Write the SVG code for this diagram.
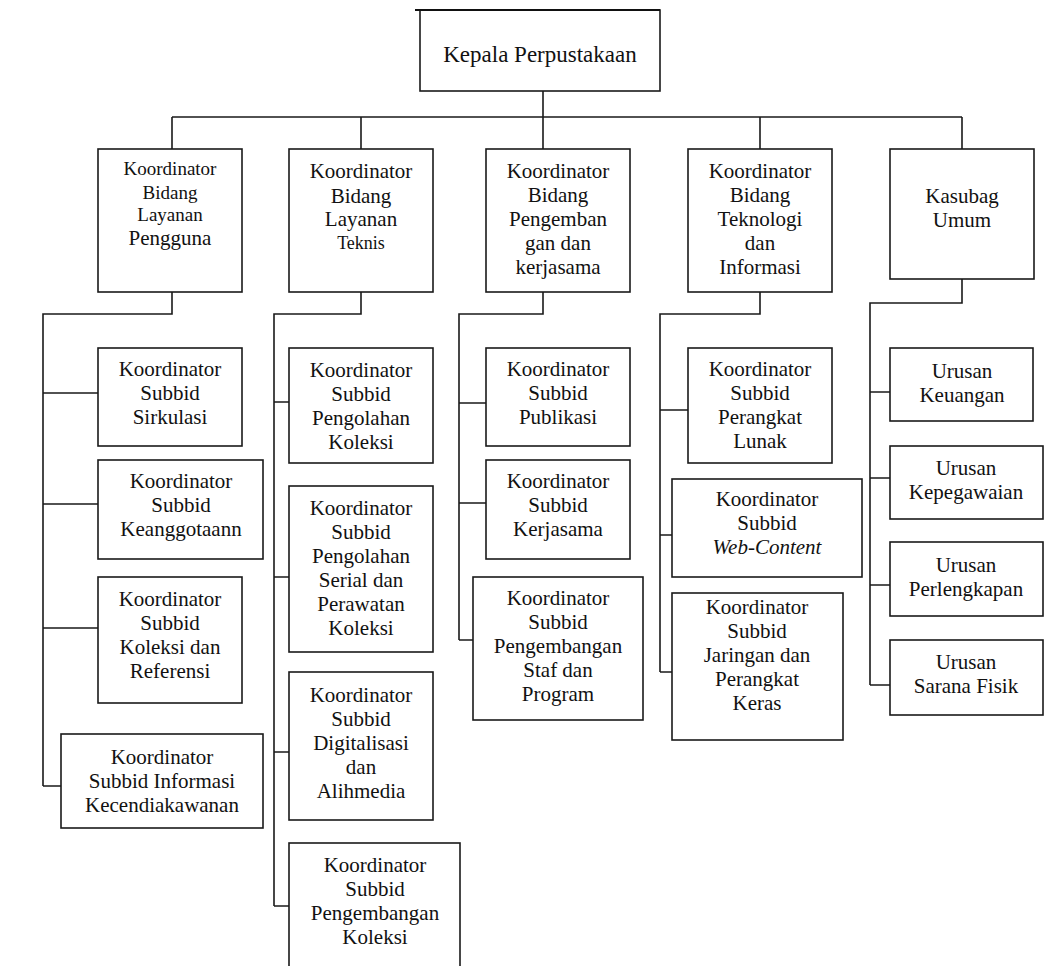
<svg xmlns="http://www.w3.org/2000/svg" width="1059" height="966" viewBox="0 0 1059 966">
<style>
rect.b{fill:#fff;stroke:#1a1a1a;stroke-width:1.6}
#connectors path{fill:none;stroke:#1a1a1a;stroke-width:1.6}
text{font-family:'Liberation Serif','Times New Roman','DejaVu Serif',serif;font-size:21px;fill:#111;text-anchor:middle}
</style>
<rect width="1059" height="966" fill="#fff"/>
<g id="connectors">
<path d="M543 91V149M172 117H962M172 117V149M361 117V149M760 117V149M962 117V149"/>
<path d="M172 292V314H43V786M43 393H98M43 504H98M43 628H98M43 786H61"/>
<path d="M361 292V314H274V906M274 402H289M274 577H289M274 752H289M274 906H289"/>
<path d="M543 292V314H459V640M459 403H486M459 503H486M459 640H473"/>
<path d="M760 292V314H660V672M660 410H688M660 535H672M660 672H672"/>
<path d="M962 279V303H870V685M870 392H890M870 478H890M870 585H890M870 685H890"/>
</g>
<g font-family="Liberation Serif, Times New Roman, serif">
<g id="kepala">
<rect class="b" x="420" y="10" width="240" height="81"/>
<path d="M415 10H660" stroke="#111" stroke-width="2.2"/>
<text x="540" y="62" style="font-size:23px">Kepala Perpustakaan</text>
</g>
<g id="bidang-layanan-pengguna">
<rect class="b" x="98" y="149" width="144" height="143"/>
<text x="170" style="font-size:19px"><tspan x="170" y="175">Koordinator</tspan><tspan x="170" y="199">Bidang</tspan><tspan x="170" y="221">Layanan</tspan><tspan x="170" y="245" style="font-size:21px">Pengguna</tspan></text>
</g>
<g id="bidang-layanan-teknis">
<rect class="b" x="289" y="149" width="144" height="143"/>
<text><tspan x="361" y="178">Koordinator</tspan><tspan x="361" y="203">Bidang</tspan><tspan x="361" y="226">Layanan</tspan><tspan x="361" y="249" style="font-size:18px">Teknis</tspan></text>
</g>
<g id="bidang-pengembangan">
<rect class="b" x="486" y="149" width="144" height="143"/>
<text><tspan x="558" y="178">Koordinator</tspan><tspan x="558" y="202">Bidang</tspan><tspan x="558" y="226">Pengemban</tspan><tspan x="558" y="250">gan dan</tspan><tspan x="558" y="274">kerjasama</tspan></text>
</g>
<g id="bidang-teknologi">
<rect class="b" x="688" y="149" width="144" height="143"/>
<text><tspan x="760" y="178">Koordinator</tspan><tspan x="760" y="202">Bidang</tspan><tspan x="760" y="226">Teknologi</tspan><tspan x="760" y="250">dan</tspan><tspan x="760" y="274">Informasi</tspan></text>
</g>
<g id="kasubag-umum">
<rect class="b" x="890" y="149" width="144" height="130"/>
<text><tspan x="962" y="203">Kasubag</tspan><tspan x="962" y="227">Umum</tspan></text>
</g>
<g id="sirkulasi">
<rect class="b" x="98" y="348" width="144" height="98"/>
<text><tspan x="170" y="376">Koordinator</tspan><tspan x="170" y="400">Subbid</tspan><tspan x="170" y="424">Sirkulasi</tspan></text>
</g>
<g id="keanggotaan">
<rect class="b" x="98" y="460" width="165" height="99"/>
<text><tspan x="181" y="488">Koordinator</tspan><tspan x="181" y="512">Subbid</tspan><tspan x="181" y="536">Keanggotaann</tspan></text>
</g>
<g id="koleksi-referensi">
<rect class="b" x="98" y="577" width="144" height="126"/>
<text><tspan x="170" y="606">Koordinator</tspan><tspan x="170" y="630">Subbid</tspan><tspan x="170" y="654">Koleksi dan</tspan><tspan x="170" y="678">Referensi</tspan></text>
</g>
<g id="informasi-kecendiakawanan">
<rect class="b" x="61" y="734" width="202" height="94"/>
<text><tspan x="162" y="764">Koordinator</tspan><tspan x="162" y="788">Subbid Informasi</tspan><tspan x="162" y="812">Kecendiakawanan</tspan></text>
</g>
<g id="pengolahan-koleksi">
<rect class="b" x="289" y="348" width="144" height="115"/>
<text><tspan x="361" y="377">Koordinator</tspan><tspan x="361" y="401">Subbid</tspan><tspan x="361" y="425">Pengolahan</tspan><tspan x="361" y="449">Koleksi</tspan></text>
</g>
<g id="pengolahan-serial">
<rect class="b" x="289" y="486" width="144" height="166"/>
<text><tspan x="361" y="515">Koordinator</tspan><tspan x="361" y="539">Subbid</tspan><tspan x="361" y="563">Pengolahan</tspan><tspan x="361" y="587">Serial dan</tspan><tspan x="361" y="611">Perawatan</tspan><tspan x="361" y="635">Koleksi</tspan></text>
</g>
<g id="digitalisasi">
<rect class="b" x="289" y="672" width="144" height="148"/>
<text><tspan x="361" y="702">Koordinator</tspan><tspan x="361" y="726">Subbid</tspan><tspan x="361" y="750">Digitalisasi</tspan><tspan x="361" y="774">dan</tspan><tspan x="361" y="798">Alihmedia</tspan></text>
</g>
<g id="pengembangan-koleksi">
<rect class="b" x="289" y="843" width="171" height="140"/>
<text><tspan x="375" y="872">Koordinator</tspan><tspan x="375" y="896">Subbid</tspan><tspan x="375" y="920">Pengembangan</tspan><tspan x="375" y="944">Koleksi</tspan></text>
</g>
<g id="publikasi">
<rect class="b" x="486" y="348" width="144" height="98"/>
<text><tspan x="558" y="376">Koordinator</tspan><tspan x="558" y="400">Subbid</tspan><tspan x="558" y="424">Publikasi</tspan></text>
</g>
<g id="kerjasama">
<rect class="b" x="486" y="460" width="144" height="99"/>
<text><tspan x="558" y="488">Koordinator</tspan><tspan x="558" y="512">Subbid</tspan><tspan x="558" y="536">Kerjasama</tspan></text>
</g>
<g id="pengembangan-staf">
<rect class="b" x="473" y="577" width="170" height="143"/>
<text><tspan x="558" y="605">Koordinator</tspan><tspan x="558" y="629">Subbid</tspan><tspan x="558" y="653">Pengembangan</tspan><tspan x="558" y="677">Staf dan</tspan><tspan x="558" y="701">Program</tspan></text>
</g>
<g id="perangkat-lunak">
<rect class="b" x="688" y="348" width="144" height="115"/>
<text><tspan x="760" y="376">Koordinator</tspan><tspan x="760" y="400">Subbid</tspan><tspan x="760" y="424">Perangkat</tspan><tspan x="760" y="448">Lunak</tspan></text>
</g>
<g id="web-content">
<rect class="b" x="672" y="479" width="190" height="98"/>
<text><tspan x="767" y="506">Koordinator</tspan><tspan x="767" y="530">Subbid</tspan><tspan x="767" y="554" font-style="italic">Web-Content</tspan></text>
</g>
<g id="jaringan">
<rect class="b" x="672" y="593" width="171" height="147"/>
<text><tspan x="757" y="614">Koordinator</tspan><tspan x="757" y="638">Subbid</tspan><tspan x="757" y="662">Jaringan dan</tspan><tspan x="757" y="686">Perangkat</tspan><tspan x="757" y="710">Keras</tspan></text>
</g>
<g id="keuangan">
<rect class="b" x="890" y="348" width="143" height="73"/>
<text><tspan x="962" y="378">Urusan</tspan><tspan x="962" y="402">Keuangan</tspan></text>
</g>
<g id="kepegawaian">
<rect class="b" x="890" y="446" width="153" height="73"/>
<text><tspan x="966" y="475">Urusan</tspan><tspan x="966" y="499">Kepegawaian</tspan></text>
</g>
<g id="perlengkapan">
<rect class="b" x="890" y="542" width="153" height="74"/>
<text><tspan x="966" y="572">Urusan</tspan><tspan x="966" y="596">Perlengkapan</tspan></text>
</g>
<g id="sarana-fisik">
<rect class="b" x="890" y="640" width="153" height="75"/>
<text><tspan x="966" y="669">Urusan</tspan><tspan x="966" y="693">Sarana Fisik</tspan></text>
</g>
</g>
</svg>
